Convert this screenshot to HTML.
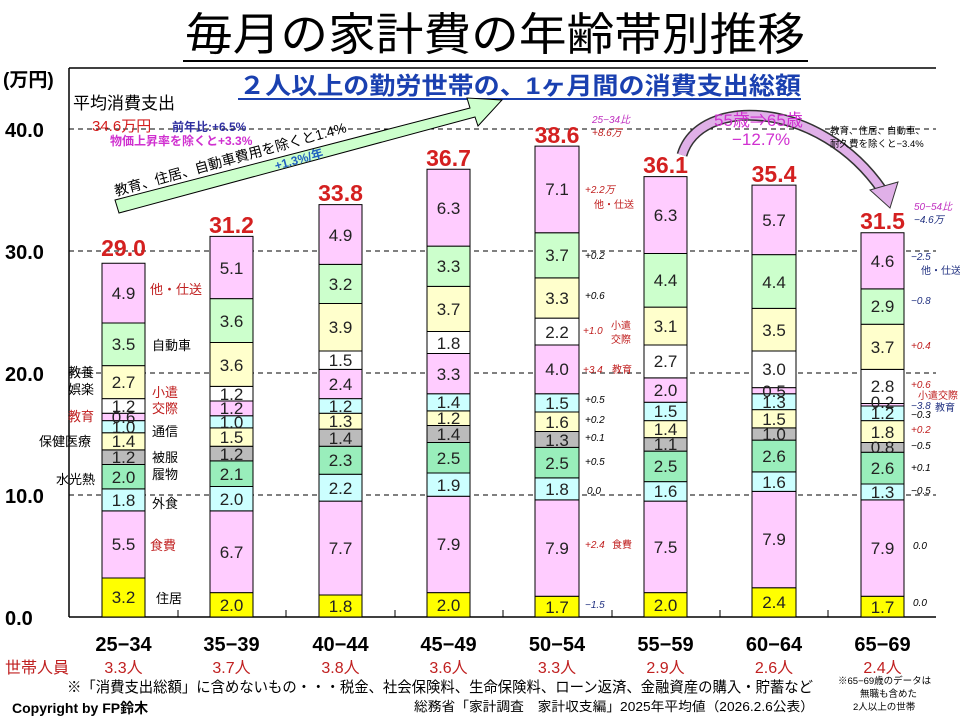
<!DOCTYPE html>
<html><head><meta charset="utf-8"><style>
body{margin:0;background:#fff}
svg{display:block;font-family:"Liberation Sans","Noto Sans CJK JP",sans-serif}
.v{font-size:17px;fill:#222;text-anchor:middle}
.t{font-size:23px;font-weight:bold;fill:#d42020;text-anchor:middle}
.c{font-size:13px;fill:#000}
.r{font-size:13px;fill:#c02020}
.s{font-size:10px}
.d{font-size:10px;font-style:italic;fill:#000}
.dr{font-size:10px;font-style:italic;fill:#c02020}
.db{font-size:10px;font-style:italic;fill:#203080}
.ax{font-size:20px;font-weight:bold;fill:#000}
.cat{font-size:20px;font-weight:bold;fill:#000;text-anchor:middle}
.n{font-size:16px;fill:#c02020;text-anchor:middle}
</style></head><body>
<svg width="960" height="720" viewBox="0 0 960 720">
<text x="495" y="50" font-size="45" text-anchor="middle" textLength="620" lengthAdjust="spacingAndGlyphs">毎月の家計費の年齢帯別推移</text>
<line x1="183" y1="61" x2="808" y2="61" stroke="#000" stroke-width="2"/>
<line x1="69" y1="68" x2="936" y2="68" stroke="#000" stroke-width="1.5"/>
<line x1="69" y1="68" x2="69" y2="617" stroke="#000" stroke-width="1.5"/>
<line x1="69" y1="617" x2="936" y2="617" stroke="#000" stroke-width="1.5"/>
<g stroke="#000" stroke-width="1" stroke-dasharray="5,4">
<line x1="69" y1="129" x2="936" y2="129"/><line x1="69" y1="251" x2="936" y2="251"/>
<line x1="69" y1="373" x2="936" y2="373"/><line x1="69" y1="495" x2="936" y2="495"/>
</g>
<g stroke="#000"><line x1="178" y1="610" x2="178" y2="617"/><line x1="286" y1="610" x2="286" y2="617"/><line x1="395" y1="610" x2="395" y2="617"/><line x1="503" y1="610" x2="503" y2="617"/><line x1="612" y1="610" x2="612" y2="617"/><line x1="720" y1="610" x2="720" y2="617"/><line x1="828" y1="610" x2="828" y2="617"/></g>
<text x="3" y="86" class="ax" style="font-size:19px">(万円)</text>
<text x="5" y="137" class="ax">40.0</text><text x="5" y="259" class="ax">30.0</text>
<text x="5" y="381" class="ax">20.0</text><text x="5" y="503" class="ax">10.0</text>
<text x="5" y="625" class="ax">0.0</text>
<text x="239" y="94" font-size="24" font-weight="bold" fill="#1a40b0" textLength="562" lengthAdjust="spacingAndGlyphs">２人以上の勤労世帯の、1ヶ月間の消費支出総額</text>
<line x1="238" y1="99" x2="801" y2="99" stroke="#1a40b0" stroke-width="2"/>
<text x="73" y="109" font-size="17">平均消費支出</text>
<text x="92" y="131" font-size="15" fill="#d42020">34.6万円</text>
<text x="172" y="131" font-size="12" font-weight="bold" fill="#3030a0">前年比:+6.5%</text>
<text x="110" y="145" font-size="12" font-weight="bold" fill="#d030d0">物価上昇率を除くと+3.3%</text>
<polygon points="115,200 470,108 467,98 502,100 478,126 475,117 119,213" fill="#ccffcc" stroke="#000" stroke-width="1"/>
<text transform="translate(116,196) rotate(-15.5)" font-size="14" textLength="240" lengthAdjust="spacingAndGlyphs">教育、住居、自動車費用を除くと1.4%</text>
<text transform="translate(276,170) rotate(-15.5)" font-size="12" font-weight="bold" fill="#2060c0">+1.3%/年</text>
<path d="M682,155 C700,95 820,100 882,190" fill="none" stroke="#333" stroke-width="11"/>
<path d="M682,155 C700,95 820,100 882,190" fill="none" stroke="#e0b0e8" stroke-width="8"/>
<polygon points="870,190 898,182 890,208" fill="#e0b0e8" stroke="#333" stroke-width="1"/>
<text x="714" y="126" font-size="17" fill="#d030d0">55歳⇒65歳</text>
<text x="732" y="145" font-size="17" fill="#d030d0">−12.7%</text>
<text x="830" y="134" font-size="9.5">教育、住居、自動車、</text>
<text x="830" y="147" font-size="9.5">耐久費を除くと−3.4%</text>
<g stroke="#000" stroke-width="1">
<g transform="translate(102,617) scale(1,-12.2)">
<rect vector-effect="non-scaling-stroke" x="0" y="0" width="43" height="3.2" fill="#ffff00"/><rect vector-effect="non-scaling-stroke" x="0" y="3.2" width="43" height="5.5" fill="#ffccff"/><rect vector-effect="non-scaling-stroke" x="0" y="8.7" width="43" height="1.8" fill="#ccffff"/><rect vector-effect="non-scaling-stroke" x="0" y="10.5" width="43" height="2" fill="#99eebb"/><rect vector-effect="non-scaling-stroke" x="0" y="12.5" width="43" height="1.2" fill="#bbbbbb"/><rect vector-effect="non-scaling-stroke" x="0" y="13.7" width="43" height="1.4" fill="#ffffcc"/><rect vector-effect="non-scaling-stroke" x="0" y="15.1" width="43" height="1" fill="#ccffff"/><rect vector-effect="non-scaling-stroke" x="0" y="16.1" width="43" height="0.6" fill="#ffccff"/><rect vector-effect="non-scaling-stroke" x="0" y="16.7" width="43" height="1.2" fill="#ffffff"/><rect vector-effect="non-scaling-stroke" x="0" y="17.9" width="43" height="2.7" fill="#ffffcc"/><rect vector-effect="non-scaling-stroke" x="0" y="20.6" width="43" height="3.5" fill="#ccffcc"/><rect vector-effect="non-scaling-stroke" x="0" y="24.1" width="43" height="4.9" fill="#ffccff"/>
</g>
<g transform="translate(210,617) scale(1,-12.2)">
<rect vector-effect="non-scaling-stroke" x="0" y="0" width="43" height="2" fill="#ffff00"/><rect vector-effect="non-scaling-stroke" x="0" y="2" width="43" height="6.7" fill="#ffccff"/><rect vector-effect="non-scaling-stroke" x="0" y="8.7" width="43" height="2" fill="#ccffff"/><rect vector-effect="non-scaling-stroke" x="0" y="10.7" width="43" height="2.1" fill="#99eebb"/><rect vector-effect="non-scaling-stroke" x="0" y="12.8" width="43" height="1.2" fill="#bbbbbb"/><rect vector-effect="non-scaling-stroke" x="0" y="14" width="43" height="1.5" fill="#ffffcc"/><rect vector-effect="non-scaling-stroke" x="0" y="15.5" width="43" height="1" fill="#ccffff"/><rect vector-effect="non-scaling-stroke" x="0" y="16.5" width="43" height="1.2" fill="#ffccff"/><rect vector-effect="non-scaling-stroke" x="0" y="17.7" width="43" height="1.2" fill="#ffffff"/><rect vector-effect="non-scaling-stroke" x="0" y="18.9" width="43" height="3.6" fill="#ffffcc"/><rect vector-effect="non-scaling-stroke" x="0" y="22.5" width="43" height="3.6" fill="#ccffcc"/><rect vector-effect="non-scaling-stroke" x="0" y="26.1" width="43" height="5.1" fill="#ffccff"/>
</g>
<g transform="translate(319,617) scale(1,-12.2)">
<rect vector-effect="non-scaling-stroke" x="0" y="0" width="43" height="1.8" fill="#ffff00"/><rect vector-effect="non-scaling-stroke" x="0" y="1.8" width="43" height="7.7" fill="#ffccff"/><rect vector-effect="non-scaling-stroke" x="0" y="9.5" width="43" height="2.2" fill="#ccffff"/><rect vector-effect="non-scaling-stroke" x="0" y="11.7" width="43" height="2.3" fill="#99eebb"/><rect vector-effect="non-scaling-stroke" x="0" y="14" width="43" height="1.4" fill="#bbbbbb"/><rect vector-effect="non-scaling-stroke" x="0" y="15.4" width="43" height="1.3" fill="#ffffcc"/><rect vector-effect="non-scaling-stroke" x="0" y="16.7" width="43" height="1.2" fill="#ccffff"/><rect vector-effect="non-scaling-stroke" x="0" y="17.9" width="43" height="2.4" fill="#ffccff"/><rect vector-effect="non-scaling-stroke" x="0" y="20.3" width="43" height="1.5" fill="#ffffff"/><rect vector-effect="non-scaling-stroke" x="0" y="21.8" width="43" height="3.9" fill="#ffffcc"/><rect vector-effect="non-scaling-stroke" x="0" y="25.7" width="43" height="3.2" fill="#ccffcc"/><rect vector-effect="non-scaling-stroke" x="0" y="28.9" width="43" height="4.9" fill="#ffccff"/>
</g>
<g transform="translate(427,617) scale(1,-12.2)">
<rect vector-effect="non-scaling-stroke" x="0" y="0" width="43" height="2" fill="#ffff00"/><rect vector-effect="non-scaling-stroke" x="0" y="2" width="43" height="7.9" fill="#ffccff"/><rect vector-effect="non-scaling-stroke" x="0" y="9.9" width="43" height="1.9" fill="#ccffff"/><rect vector-effect="non-scaling-stroke" x="0" y="11.8" width="43" height="2.5" fill="#99eebb"/><rect vector-effect="non-scaling-stroke" x="0" y="14.3" width="43" height="1.4" fill="#bbbbbb"/><rect vector-effect="non-scaling-stroke" x="0" y="15.7" width="43" height="1.2" fill="#ffffcc"/><rect vector-effect="non-scaling-stroke" x="0" y="16.9" width="43" height="1.4" fill="#ccffff"/><rect vector-effect="non-scaling-stroke" x="0" y="18.3" width="43" height="3.3" fill="#ffccff"/><rect vector-effect="non-scaling-stroke" x="0" y="21.6" width="43" height="1.8" fill="#ffffff"/><rect vector-effect="non-scaling-stroke" x="0" y="23.4" width="43" height="3.7" fill="#ffffcc"/><rect vector-effect="non-scaling-stroke" x="0" y="27.1" width="43" height="3.3" fill="#ccffcc"/><rect vector-effect="non-scaling-stroke" x="0" y="30.4" width="43" height="6.3" fill="#ffccff"/>
</g>
<g transform="translate(535,617) scale(1,-12.2)">
<rect vector-effect="non-scaling-stroke" x="0" y="0" width="44" height="1.7" fill="#ffff00"/><rect vector-effect="non-scaling-stroke" x="0" y="1.7" width="44" height="7.9" fill="#ffccff"/><rect vector-effect="non-scaling-stroke" x="0" y="9.6" width="44" height="1.8" fill="#ccffff"/><rect vector-effect="non-scaling-stroke" x="0" y="11.4" width="44" height="2.5" fill="#99eebb"/><rect vector-effect="non-scaling-stroke" x="0" y="13.9" width="44" height="1.3" fill="#bbbbbb"/><rect vector-effect="non-scaling-stroke" x="0" y="15.2" width="44" height="1.6" fill="#ffffcc"/><rect vector-effect="non-scaling-stroke" x="0" y="16.8" width="44" height="1.5" fill="#ccffff"/><rect vector-effect="non-scaling-stroke" x="0" y="18.3" width="44" height="4" fill="#ffccff"/><rect vector-effect="non-scaling-stroke" x="0" y="22.3" width="44" height="2.2" fill="#ffffff"/><rect vector-effect="non-scaling-stroke" x="0" y="24.5" width="44" height="3.3" fill="#ffffcc"/><rect vector-effect="non-scaling-stroke" x="0" y="27.8" width="44" height="3.7" fill="#ccffcc"/><rect vector-effect="non-scaling-stroke" x="0" y="31.5" width="44" height="7.1" fill="#ffccff"/>
</g>
<g transform="translate(644,617) scale(1,-12.2)">
<rect vector-effect="non-scaling-stroke" x="0" y="0" width="43" height="2" fill="#ffff00"/><rect vector-effect="non-scaling-stroke" x="0" y="2" width="43" height="7.5" fill="#ffccff"/><rect vector-effect="non-scaling-stroke" x="0" y="9.5" width="43" height="1.6" fill="#ccffff"/><rect vector-effect="non-scaling-stroke" x="0" y="11.1" width="43" height="2.5" fill="#99eebb"/><rect vector-effect="non-scaling-stroke" x="0" y="13.6" width="43" height="1.1" fill="#bbbbbb"/><rect vector-effect="non-scaling-stroke" x="0" y="14.7" width="43" height="1.4" fill="#ffffcc"/><rect vector-effect="non-scaling-stroke" x="0" y="16.1" width="43" height="1.5" fill="#ccffff"/><rect vector-effect="non-scaling-stroke" x="0" y="17.6" width="43" height="2" fill="#ffccff"/><rect vector-effect="non-scaling-stroke" x="0" y="19.6" width="43" height="2.7" fill="#ffffff"/><rect vector-effect="non-scaling-stroke" x="0" y="22.3" width="43" height="3.1" fill="#ffffcc"/><rect vector-effect="non-scaling-stroke" x="0" y="25.4" width="43" height="4.4" fill="#ccffcc"/><rect vector-effect="non-scaling-stroke" x="0" y="29.8" width="43" height="6.3" fill="#ffccff"/>
</g>
<g transform="translate(752,617) scale(1,-12.2)">
<rect vector-effect="non-scaling-stroke" x="0" y="0" width="44" height="2.4" fill="#ffff00"/><rect vector-effect="non-scaling-stroke" x="0" y="2.4" width="44" height="7.9" fill="#ffccff"/><rect vector-effect="non-scaling-stroke" x="0" y="10.3" width="44" height="1.6" fill="#ccffff"/><rect vector-effect="non-scaling-stroke" x="0" y="11.9" width="44" height="2.6" fill="#99eebb"/><rect vector-effect="non-scaling-stroke" x="0" y="14.5" width="44" height="1" fill="#bbbbbb"/><rect vector-effect="non-scaling-stroke" x="0" y="15.5" width="44" height="1.5" fill="#ffffcc"/><rect vector-effect="non-scaling-stroke" x="0" y="17" width="44" height="1.3" fill="#ccffff"/><rect vector-effect="non-scaling-stroke" x="0" y="18.3" width="44" height="0.5" fill="#ffccff"/><rect vector-effect="non-scaling-stroke" x="0" y="18.8" width="44" height="3" fill="#ffffff"/><rect vector-effect="non-scaling-stroke" x="0" y="21.8" width="44" height="3.5" fill="#ffffcc"/><rect vector-effect="non-scaling-stroke" x="0" y="25.3" width="44" height="4.4" fill="#ccffcc"/><rect vector-effect="non-scaling-stroke" x="0" y="29.7" width="44" height="5.7" fill="#ffccff"/>
</g>
<g transform="translate(861,617) scale(1,-12.2)">
<rect vector-effect="non-scaling-stroke" x="0" y="0" width="43" height="1.7" fill="#ffff00"/><rect vector-effect="non-scaling-stroke" x="0" y="1.7" width="43" height="7.9" fill="#ffccff"/><rect vector-effect="non-scaling-stroke" x="0" y="9.6" width="43" height="1.3" fill="#ccffff"/><rect vector-effect="non-scaling-stroke" x="0" y="10.9" width="43" height="2.6" fill="#99eebb"/><rect vector-effect="non-scaling-stroke" x="0" y="13.5" width="43" height="0.8" fill="#bbbbbb"/><rect vector-effect="non-scaling-stroke" x="0" y="14.3" width="43" height="1.8" fill="#ffffcc"/><rect vector-effect="non-scaling-stroke" x="0" y="16.1" width="43" height="1.2" fill="#ccffff"/><rect vector-effect="non-scaling-stroke" x="0" y="17.3" width="43" height="0.2" fill="#ffccff"/><rect vector-effect="non-scaling-stroke" x="0" y="17.5" width="43" height="2.8" fill="#ffffff"/><rect vector-effect="non-scaling-stroke" x="0" y="20.3" width="43" height="3.7" fill="#ffffcc"/><rect vector-effect="non-scaling-stroke" x="0" y="24" width="43" height="2.9" fill="#ccffcc"/><rect vector-effect="non-scaling-stroke" x="0" y="26.9" width="43" height="4.6" fill="#ffccff"/>
</g>
</g>
<g class="v">
<g transform="translate(123.5,0)"><text y="603">3.2</text><text y="550">5.5</text><text y="506">1.8</text><text y="483">2.0</text><text y="463">1.2</text><text y="447">1.4</text><text y="433">1.0</text><text y="423">0.6</text><text y="412">1.2</text><text y="388">2.7</text><text y="350">3.5</text><text y="299">4.9</text></g>
<g transform="translate(231.5,0)"><text y="611">2.0</text><text y="558">6.7</text><text y="505">2.0</text><text y="480">2.1</text><text y="460">1.2</text><text y="443">1.5</text><text y="428">1.0</text><text y="414">1.2</text><text y="400">1.2</text><text y="371">3.6</text><text y="327">3.6</text><text y="274">5.1</text></g>
<g transform="translate(340.5,0)"><text y="612">1.8</text><text y="554">7.7</text><text y="494">2.2</text><text y="466">2.3</text><text y="444">1.4</text><text y="427">1.3</text><text y="412">1.2</text><text y="390">2.4</text><text y="366">1.5</text><text y="333">3.9</text><text y="290">3.2</text><text y="241">4.9</text></g>
<g transform="translate(448.5,0)"><text y="611">2.0</text><text y="550">7.9</text><text y="491">1.9</text><text y="464">2.5</text><text y="440">1.4</text><text y="424">1.2</text><text y="408">1.4</text><text y="380">3.3</text><text y="349">1.8</text><text y="315">3.7</text><text y="272">3.3</text><text y="214">6.3</text></g>
<g transform="translate(557,0)"><text y="613">1.7</text><text y="554">7.9</text><text y="495">1.8</text><text y="469">2.5</text><text y="446">1.3</text><text y="428">1.6</text><text y="409">1.5</text><text y="375">4.0</text><text y="338">2.2</text><text y="304">3.3</text><text y="261">3.7</text><text y="195">7.1</text></g>
<g transform="translate(665.5,0)"><text y="611">2.0</text><text y="553">7.5</text><text y="497">1.6</text><text y="472">2.5</text><text y="450">1.1</text><text y="435">1.4</text><text y="417">1.5</text><text y="396">2.0</text><text y="367">2.7</text><text y="332">3.1</text><text y="286">4.4</text><text y="221">6.3</text></g>
<g transform="translate(774,0)"><text y="608">2.4</text><text y="545">7.9</text><text y="488">1.6</text><text y="462">2.6</text><text y="440">1.0</text><text y="425">1.5</text><text y="408">1.3</text><text y="397">0.5</text><text y="375">3.0</text><text y="336">3.5</text><text y="288">4.4</text><text y="226">5.7</text></g>
<g transform="translate(882.5,0)"><text y="613">1.7</text><text y="554">7.9</text><text y="498">1.3</text><text y="474">2.6</text><text y="453">0.8</text><text y="438">1.8</text><text y="419">1.2</text><text y="408">0.2</text><text y="392">2.8</text><text y="353">3.7</text><text y="312">2.9</text><text y="267">4.6</text></g>
</g>
<text x="123.5" y="256" class="t">29.0</text><text x="231.5" y="233" class="t">31.2</text>
<text x="340.5" y="201" class="t">33.8</text><text x="448.5" y="166" class="t">36.7</text>
<text x="557" y="143" class="t">38.6</text><text x="665.5" y="173" class="t">36.1</text>
<text x="774" y="182" class="t">35.4</text><text x="882.5" y="229" class="t">31.5</text>
<text x="150" y="294" class="r">他・仕送</text>
<text x="152" y="350" class="c">自動車</text>
<text x="68" y="377" class="c">教養</text><text x="68" y="394" class="c">娯楽</text>
<text x="152" y="397" class="r">小遣</text><text x="152" y="413" class="r">交際</text>
<text x="68" y="421" class="r">教育</text>
<text x="152" y="436" class="c">通信</text>
<text x="39" y="446" class="c">保健医療</text>
<text x="152" y="462" class="c">被服</text><text x="152" y="479" class="c">履物</text>
<text x="56" y="484" class="c">水光熱</text>
<text x="152" y="508" class="c">外食</text>
<text x="150" y="550" class="r">食費</text>
<text x="156" y="603" class="c">住居</text>
<text x="592" y="123" class="d" style="fill:#c030c0">25−34比</text>
<text x="592" y="136" class="dr">+8.6万</text>
<text x="585" y="193" class="dr">+2.2万</text><text x="594" y="208" class="r s">他・仕送</text>
<text x="585" y="259" class="d">+0.2</text><text x="585" y="299" class="d">+0.6</text>
<text x="583" y="334" class="dr">+1.0</text><text x="611" y="329" class="r s">小遣</text><text x="611" y="343" class="r s">交際</text>
<text x="583" y="373" class="dr">+3.4</text><text x="612" y="373" class="r s">教育</text>
<text x="585" y="403" class="d">+0.5</text><text x="585" y="423" class="d">+0.2</text>
<text x="585" y="441" class="d">+0.1</text><text x="585" y="465" class="d">+0.5</text>
<text x="587" y="494" class="d">0.0</text>
<text x="585" y="548" class="dr">+2.4</text><text x="612" y="548" class="r s">食費</text>
<text x="585" y="608" class="db">−1.5</text>
<text x="914" y="210" class="d" style="fill:#c030c0">50−54比</text>
<text x="914" y="223" class="db">−4.6万</text>
<text x="911" y="260" class="db">−2.5</text><text x="921" y="274" class="c s" style="fill:#203080">他・仕送</text>
<text x="911" y="304" class="db">−0.8</text>
<text x="911" y="349" class="dr">+0.4</text>
<text x="911" y="388" class="dr">+0.6</text><text x="918" y="399" class="r s">小遣交際</text>
<text x="911" y="409" class="db">−3.8</text><text x="935" y="411" class="c s" style="fill:#203080">教育</text>
<text x="911" y="418" class="d">−0.3</text><text x="911" y="433" class="dr">+0.2</text>
<text x="911" y="449" class="d">−0.5</text><text x="911" y="471" class="d">+0.1</text>
<text x="911" y="494" class="d">−0.5</text>
<text x="913" y="549" class="d">0.0</text><text x="913" y="606" class="d">0.0</text>
<g class="cat"><text x="123.5" y="651">25−34</text><text x="231.5" y="651">35−39</text><text x="340.5" y="651">40−44</text><text x="448.5" y="651">45−49</text><text x="557" y="651">50−54</text><text x="665.5" y="651">55−59</text><text x="774" y="651">60−64</text><text x="882.5" y="651">65−69</text></g>
<text x="5" y="673" font-size="16" fill="#c02020">世帯人員</text>
<g class="n"><text x="123.5" y="673">3.3人</text><text x="231.5" y="673">3.7人</text><text x="340.5" y="673">3.8人</text><text x="448.5" y="673">3.6人</text><text x="557" y="673">3.3人</text><text x="665.5" y="673">2.9人</text><text x="774" y="673">2.6人</text><text x="882.5" y="673">2.4人</text></g>
<text x="67" y="692" font-size="15" textLength="746" lengthAdjust="spacingAndGlyphs">※「消費支出総額」に含めないもの・・・税金、社会保険料、生命保険料、ローン返済、金融資産の購入・貯蓄など</text>
<text x="12" y="713" font-size="14" font-weight="bold">Copyright by FP鈴木</text>
<text x="414" y="711" font-size="13" textLength="400" lengthAdjust="spacingAndGlyphs">総務省「家計調査　家計収支編」2025年平均値（2026.2.6公表）</text>
<text x="838" y="684" font-size="9.5">※65−69歳のデータは</text>
<text x="860" y="697" font-size="9.5">無職も含めた</text>
<text x="853" y="710" font-size="9.5">2人以上の世帯</text>
</svg>
</body></html>
